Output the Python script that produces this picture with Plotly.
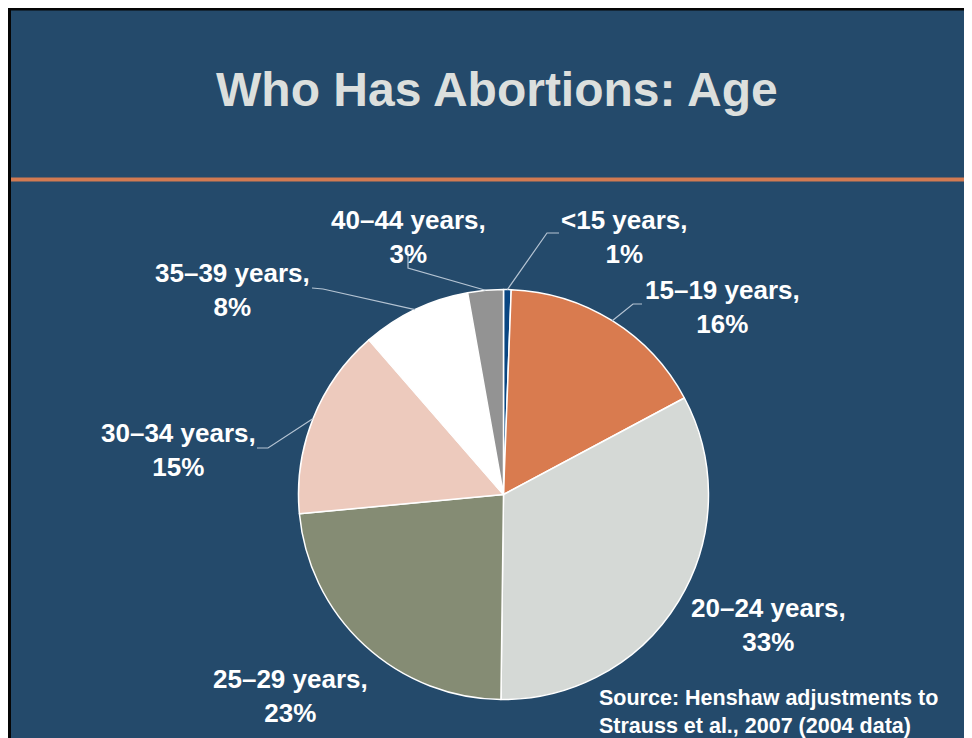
import math
import plotly.graph_objects as go

# ---- data ----
age_groups = ["<15 years", "15–19 years", "20–24 years", "25–29 years",
              "30–34 years", "35–39 years", "40–44 years"]
shares = [0.6, 16.6, 33.0, 23.3, 15.1, 8.6, 2.8]
share_labels = ["1%", "16%", "33%", "23%", "15%", "8%", "3%"]
title_text = "Who Has Abortions: Age"
source_lines = ["Source: Henshaw adjustments to", "Strauss et al., 2007 (2004 data)"]

# ---- styling / layout ----
OFF = 8                      # page body margin
W, H = 972 - OFF, 738 - OFF  # figure size
BG = "#244A6B"
colors = ["#0A4682", "#D97B4F", "#D5D9D6", "#858C74", "#EDCABD", "#FFFFFF", "#939393"]
cx, cy, R = 503.5, 494.5, 205  # page px
FONT = "Liberation Sans, Arial, sans-serif"

label_pos = {  # label block centres (page px)
    "<15 years": (624, 237),
    "15–19 years": (722, 307),
    "20–24 years": (768, 625),
    "25–29 years": (290, 696),
    "30–34 years": (178, 450),
    "35–39 years": (232, 290),
    "40–44 years": (408, 237),
}
leader_pts = {  # elbow and end of leader lines (page px)
    "<15 years": [(547, 233), (559, 233)],
    "15–19 years": [(633, 304), (642, 304)],
    "30–34 years": [(268, 448), (257, 448)],
    "35–39 years": [(323, 289), (312, 288)],
    "40–44 years": [(408, 268), (408, 251)],
}


def px(x):
    return (x - OFF) / W


def py(y):
    return 1 - (y - OFF) / H


fig = go.Figure()
fig.add_trace(go.Pie(
    labels=age_groups, values=shares, sort=False, direction="clockwise",
    rotation=0, textinfo="none", hoverinfo="label+percent",
    marker=dict(colors=colors, line=dict(color="#FFFFFF", width=1.5)),
    domain=dict(x=[px(cx - R), px(cx + R)], y=[py(cy + R), py(cy - R)]),
    showlegend=False,
))

shapes = []
# dark frame on top and left
shapes.append(dict(type="rect", xref="paper", yref="paper", x0=0, x1=1, y0=py(10.5), y1=1,
                   fillcolor="#050505", line_width=0, layer="above"))
shapes.append(dict(type="rect", xref="paper", yref="paper", x0=0, x1=px(11), y0=0, y1=1,
                   fillcolor="#050505", line_width=0, layer="above"))
# orange rule under the title
shapes.append(dict(type="rect", xref="paper", yref="paper", x0=px(11), x1=1, y0=py(181.5), y1=py(177.5),
                   fillcolor="#D27A52", line_width=0))

# leader lines from slice mid-angle on the rim
total = sum(shares)
cum = 0.0
for name, v in zip(age_groups, shares):
    mid = (cum + v / 2) / total * 2 * math.pi
    cum += v
    if name not in leader_pts:
        continue
    sx, sy = cx + R * math.sin(mid), cy - R * math.cos(mid)
    pts = [(sx, sy)] + leader_pts[name]
    path = "M " + " L ".join(f"{px(x):.5f},{py(y):.5f}" for x, y in pts)
    shapes.append(dict(type="path", xref="paper", yref="paper", path=path,
                       line=dict(color="#B5C4D3", width=1.2)))

annotations = [dict(
    text=f"<b>{title_text}</b>", x=px(497), y=py(90), xref="paper", yref="paper",
    showarrow=False, xanchor="center", yanchor="middle",
    font=dict(family=FONT, size=48, color="#DCDFDD"))]

for name, lab in zip(age_groups, share_labels):
    x, y = label_pos[name]
    annotations.append(dict(
        text=f"<b>{name},<br>{lab}</b>", x=px(x), y=py(y), xref="paper", yref="paper",
        showarrow=False, xanchor="center", yanchor="middle", align="center",
        font=dict(family=FONT, size=26, color="#FFFFFF")))

annotations.append(dict(
    text="<b>" + "<br>".join(source_lines) + "</b>", x=px(597), y=py(712),
    xref="paper", yref="paper", showarrow=False, xanchor="left", yanchor="middle",
    align="left", font=dict(family=FONT, size=21.5, color="#FFFFFF")))

fig.update_layout(
    width=W, height=H, margin=dict(l=0, r=0, t=0, b=0),
    paper_bgcolor=BG, plot_bgcolor=BG,
    shapes=shapes, annotations=annotations,
)

fig.write_html("out.html")
